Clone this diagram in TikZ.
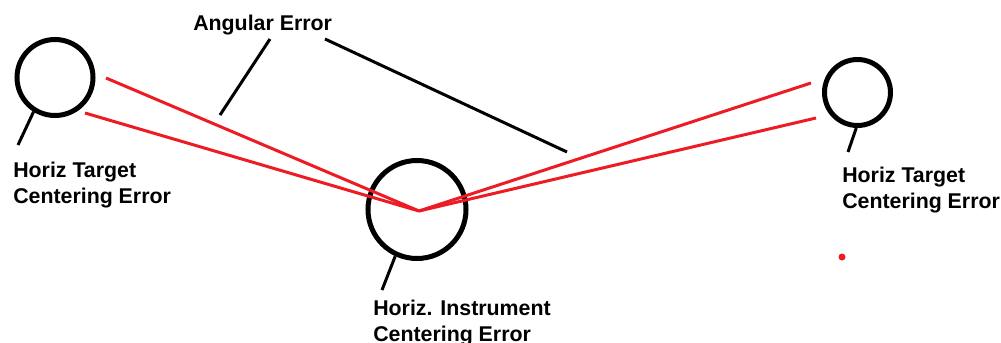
\documentclass[tikz,border=0pt]{standalone}
\usepackage{fontspec}
\setmainfont{Liberation Sans}
\definecolor{paintred}{RGB}{237,28,36}
\tikzset{
  ring/.style={circle, draw, line width=3.75pt, inner sep=0pt},
  lbl/.style={anchor=north west, inner sep=0pt, align=left, font=\bfseries\fontsize{16}{19.5}\selectfont},
  lead/.style={line width=2.25pt},
  beam/.style={paintred, line width=2.25pt}
}
\begin{document}
\begin{tikzpicture}[x=0.75pt, y=-0.75pt]
        \useasboundingbox (0,0) rectangle (1001,343);
        % Targets and instrument
        \node[ring, minimum size=57pt] (lt) at (55,77.5) {};
        \node[ring, minimum size=73.5pt] (inst) at (417,209.5) {};
        \node[ring, minimum size=49.5pt] (rt) at (857.5,92.5) {};
        % Lines of sight
        \coordinate (v) at (419,211);
        \coordinate (la) at (106,78);
        \coordinate (lb) at (85,113);
        \coordinate (ra) at (811,83);
        \coordinate (rb) at (816,118);
        \draw[beam] (v) -- (la);
        \draw[beam] (v) -- (lb);
        \draw[beam] (v) -- (ra);
        \draw[beam] (v) -- (rb);
        \fill[paintred] (842,257) circle (3.5);
        % Left target
        \node[lbl] (ltl) at (13,162) {Horiz Target\\Centering Error};
        \coordinate (ltx) at (18,145);
        \draw[lead] (lt.238) -- (ltx);
        % Right target
        \node[lbl] (rtl) at (842,166.5) {Horiz Target\\Centering Error};
        \coordinate (rtx) at (848,152);
        \draw[lead] (rt.268) -- (rtx);
        % Instrument
        \node[lbl] (instl) at (373,300) {Horiz. Instrument\\Centering Error};
        \coordinate (instx) at (382,290);
        \draw[lead] (inst.245) -- (instx);
        % Angular error
        \node[lbl] (ang) at (193,15) {Angular Error};
        \coordinate (anga) at (270,39);
        \coordinate (angb) at (325,39);
        \coordinate (angc) at (220,115);
        \coordinate (angd) at (567,152);
        \draw[lead] (anga) -- (angc);
        \draw[lead] (angb) -- (angd);
\end{tikzpicture}
\end{document}
